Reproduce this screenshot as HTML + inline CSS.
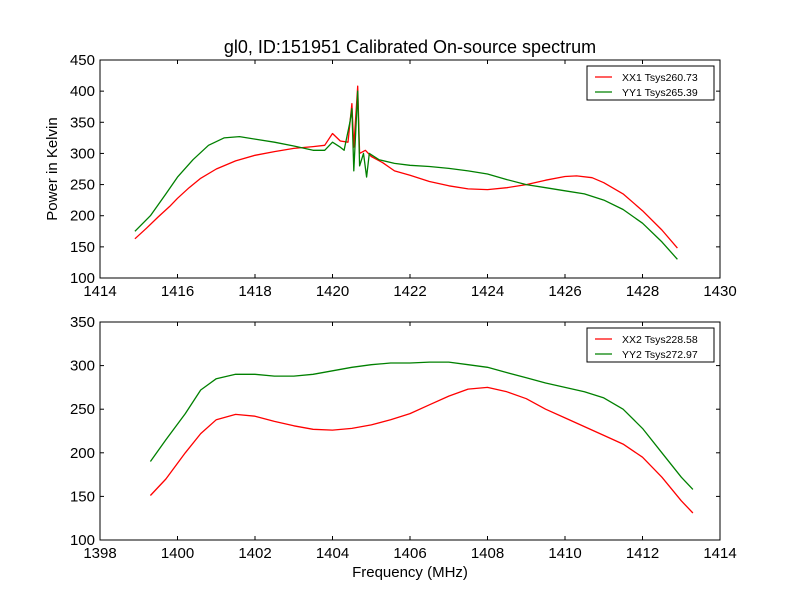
<!DOCTYPE html>
<html><head><meta charset="utf-8"><style>
body{margin:0;background:#fff;width:800px;height:600px;overflow:hidden}
svg{font-family:"Liberation Sans",sans-serif}
</style></head><body>
<svg id="c" width="800" height="600">
<text x="410" y="53" font-size="18" text-anchor="middle">gl0, ID:151951 Calibrated On-source spectrum</text>
<text x="57" y="169" font-size="15" text-anchor="middle" transform="rotate(-90 57 169)">Power in Kelvin</text>
<text x="410" y="577" font-size="15" text-anchor="middle">Frequency (MHz)</text>
</svg>
<script>
const topXX1F=[1414.9,1415.2,1415.5,1415.8,1416.0,1416.3,1416.6,1417.0,1417.5,1418.0,1418.5,1419.0,1419.5,1419.8,1420.0,1420.2,1420.4,1420.5,1420.55,1420.65,1420.7,1420.85,1421.0,1421.3,1421.6,1422,1422.5,1423,1423.5,1424,1424.5,1425,1425.5,1426,1426.3,1426.7,1427,1427.5,1428,1428.5,1428.9];
const topXX1V=[163,180,198,215,228,245,260,275,288,297,303,308,311,313,332,320,318,380,310,408,300,305,295,285,272,265,255,248,243,242,245,250,257,263,264,261,253,235,208,177,148];
const topYY1F=[1414.9,1415.3,1415.7,1416,1416.4,1416.8,1417.2,1417.6,1418,1418.5,1419,1419.5,1419.8,1420,1420.2,1420.3,1420.45,1420.5,1420.55,1420.65,1420.7,1420.8,1420.88,1420.95,1421.2,1421.6,1422,1422.5,1423,1423.5,1424,1424.5,1425,1425.5,1426,1426.5,1427,1427.5,1428,1428.5,1428.9];
const topYY1V=[175,200,235,262,290,313,325,327,323,318,312,305,305,318,310,305,350,372,272,400,280,300,262,300,290,284,281,279,276,272,267,258,250,245,240,235,225,210,188,158,130];
const botXX2F=[1399.3,1399.7,1400.2,1400.6,1401,1401.5,1402,1402.5,1403,1403.5,1404,1404.5,1405,1405.5,1406,1406.5,1407,1407.5,1408,1408.5,1409,1409.5,1410,1410.5,1411,1411.5,1412,1412.5,1413,1413.3];
const botXX2V=[151,170,200,222,238,244,242,236,231,227,226,228,232,238,245,255,265,273,275,270,262,250,240,230,220,210,195,172,145,131];
const botYY2F=botXX2F;
const botYY2V=[190,215,245,272,285,290,290,288,288,290,294,298,301,303,303,304,304,301,298,292,286,280,275,270,263,250,228,200,172,158];
const topXTicks=[1414,1416,1418,1420,1422,1424,1426,1428,1430];
const topYTicks=[100,150,200,250,300,350,400,450];
const botXTicks=[1398,1400,1402,1404,1406,1408,1410,1412,1414];
const botYTicks=[100,150,200,250,300,350];
const svg=document.getElementById('c');
const NS='http://www.w3.org/2000/svg';
function mk(t,a){const e=document.createElementNS(NS,t);for(const k in a)e.setAttribute(k,a[k]);svg.appendChild(e);return e;}
function panel(name,top,bot,x0,x1,y0,y1,xt,yt,series,legend){
  const L=100,R=720;
  const sx=f=>L+(f-x0)/(x1-x0)*(R-L);
  const sy=v=>bot-(v-y0)/(y1-y0)*(bot-top);
  const fr=mk('rect',{x:L,y:top,width:R-L,height:bot-top,fill:'none',stroke:'#000'});
  
  
  xt.forEach(t=>{const x=sx(t);
    mk('line',{x1:x,x2:x,y1:bot,y2:bot-4,stroke:'#000'});mk('line',{x1:x,x2:x,y1:top,y2:top+4,stroke:'#000'});
    const e=mk('text',{x:x,y:bot+18,'font-size':15,'text-anchor':'middle'});e.textContent=t;
    
    });
  yt.forEach(t=>{const y=sy(t);
    mk('line',{x1:L,x2:L+4,y1:y,y2:y,stroke:'#000'});mk('line',{x1:R,x2:R-4,y1:y,y2:y,stroke:'#000'});
    const e=mk('text',{x:L-5,y:y+5,'font-size':15,'text-anchor':'end'});e.textContent=t;
    
    });
  series.forEach(s=>{
    const d=s.f.map((f,i)=>(i?'L':'M')+sx(f).toFixed(1)+','+sy(s.v[i]).toFixed(1)).join('');
    const p=mk('path',{d:d,fill:'none',stroke:s.c,'stroke-width':1.3,'stroke-linejoin':'round'});
    
    
  });
  const lg=mk('rect',{x:587,y:top+6,width:127,height:34,fill:'#fff',stroke:'#000'});
  
  
  legend.forEach((l,i)=>{const y=top+17+i*15;
    mk('line',{x1:595,x2:612,y1:y,y2:y,stroke:l[1],'stroke-width':1.3});
    const e=mk('text',{x:622,y:y+4,'font-size':10.5});e.textContent=l[0];
    
    });
}
panel('top-plot',60,278,1414,1430,100,450,topXTicks,topYTicks,
 [{f:topXX1F,v:topXX1V,c:'#ff0000',n:'xx1-line'},{f:topYY1F,v:topYY1V,c:'#008000',n:'yy1-line'}],
 [['XX1 Tsys260.73','#ff0000'],['YY1 Tsys265.39','#008000']]);
panel('bottom-plot',322,540,1398,1414,100,350,botXTicks,botYTicks,
 [{f:botXX2F,v:botXX2V,c:'#ff0000',n:'xx2-line'},{f:botYY2F,v:botYY2V,c:'#008000',n:'yy2-line'}],
 [['XX2 Tsys228.58','#ff0000'],['YY2 Tsys272.97','#008000']]);
</script>
</body></html>
